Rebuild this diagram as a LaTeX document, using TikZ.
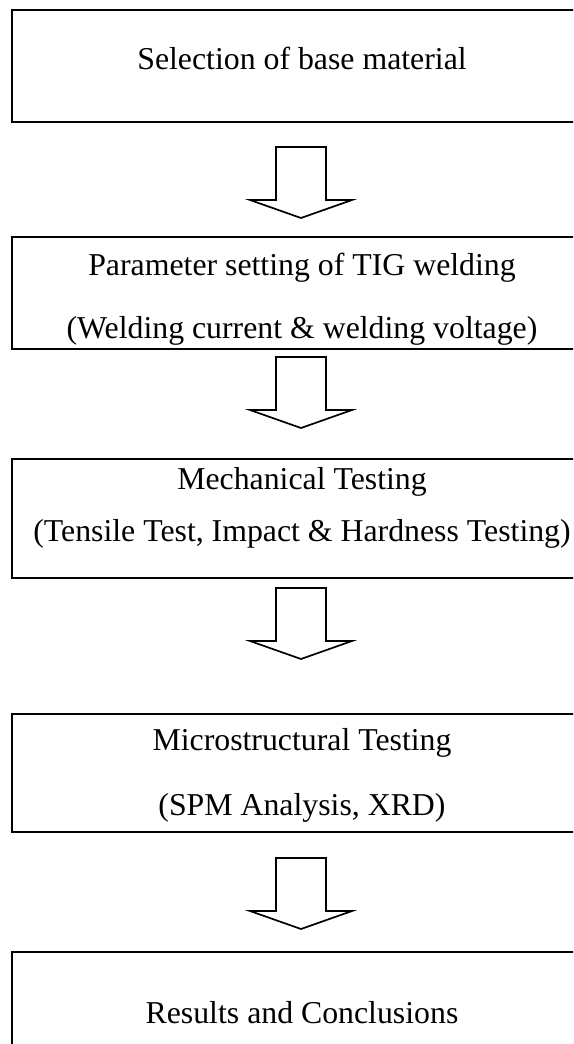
\documentclass[tikz,border=0pt]{standalone}
\usepackage{fontspec}
\setmainfont{Liberation Serif}
\begin{document}
\begin{tikzpicture}[x=1pt,y=-1pt, line width=1.7pt,
  box/.style={draw, rectangle, inner sep=0pt, minimum width=578pt},
  lbl/.style={anchor=base, inner sep=0pt, font=\fontsize{31.8}{38}\selectfont},
  blk/.style={draw, line join=miter}]
\useasboundingbox (0,0) rectangle (573,1044);
\clip (0,0) rectangle (573,1044);
% boxes
\node[box, minimum height=112pt] (b1) at (301,66) {};
\node[box, minimum height=112pt] (b2) at (301,293) {};
\node[box, minimum height=119pt] (b3) at (301,518.5) {};
\node[box, minimum height=118pt] (b4) at (301,773) {};
\node[box, minimum height=130pt] (b5) at (301,1017) {};
% texts
\node[lbl] (t1) at (302,69) {Selection of base material};
\node[lbl] (t2a) at (302,275) {Parameter setting of TIG welding};
\node[lbl] (t2b) at (302,338) {(Welding current \& welding voltage)};
\node[lbl] (t3a) at (302,489) {Mechanical Testing};
\node[lbl] (t3b) at (302,541) {(Tensile Test, Impact \& Hardness Testing)};
\node[lbl] (t4a) at (302,750) {Microstructural Testing};
\node[lbl] (t4b) at (302,815) {(SPM Analysis, XRD)};
\node[lbl] (t5) at (302,1023) {Results and Conclusions};
% block arrows
\foreach \n/\yy in {a1/147, a2/357, a3/588, a4/858}{
  \coordinate (\n) at (301,\yy);
  \draw[blk] (\n) ++(-25,0) -- ++(50,0) -- ++(0,53) -- ++(26,0) -- ++(-51,18) -- ++(-51,-18) -- ++(26,0) -- cycle;
}
\end{tikzpicture}
\end{document}
